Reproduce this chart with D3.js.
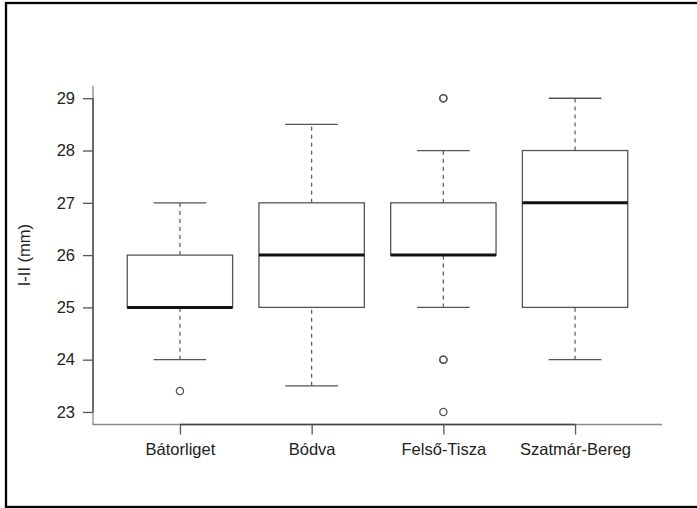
<!DOCTYPE html>
<html>
<head>
<meta charset="utf-8">
<script src="https://cdn.jsdelivr.net/npm/d3@7"></script>
<style>
  body { margin: 0; background: #fff; }
  text { font-family: "Liberation Sans", Arial, sans-serif; fill: #222; }
</style>
</head>
<body>
<div id="chart"></div>
<script>
const width = 697;
const height = 508;

const plot = {left: 93, right: 662, top: 85.7, bottom: 424.5};

const sites = ['Bátorliget', 'Bódva', 'Felső-Tisza', 'Szatmár-Bereg'];
const whiskerLow = [24, 23.5, 25, 24];
const boxLow = [25, 25, 26, 25];
const medians = [25, 26, 26, 27];
const boxHigh = [26, 27, 27, 28];
const whiskerHigh = [27, 28.5, 28, 29];
const outliers = [[23.4], [], [29, 29, 24, 24, 23], []];

const yTicks = [23, 24, 25, 26, 27, 28, 29];

const fontSize = 16.5;

const svg = d3.select("#chart")
  .append("svg")
  .attr("width", width)
  .attr("height", height);

svg.append("rect")
  .attr("x", 6)
  .attr("y", 3)
  .attr("width", 720)
  .attr("height", 504)
  .attr("fill", "none")
  .attr("stroke", "#000")
  .attr("stroke-width", 2.3);

const x = d3.scalePoint()
  .domain(sites)
  .range([plot.left, plot.right])
  .padding(0.66);

const y = d3.scaleLinear()
  .domain([22.76, 29.24])
  .range([plot.bottom, plot.top]);

const boxW = x.step() * 0.8;
const capW = boxW * 0.5;

// L-shaped frame
svg.append("path")
  .attr("d", `M${plot.left},${plot.top}V${plot.bottom}H${plot.right}`)
  .attr("fill", "none")
  .attr("stroke", "#8a8a8a")
  .attr("stroke-width", 1.3);

const boxes = svg.selectAll("g.box")
  .data(sites)
  .enter()
  .append("g")
  .attr("class", "box")
  .attr("transform", (d) => `translate(${x(d)},0)`);

// whiskers
boxes.append("line")
  .attr("y1", (d, i) => y(whiskerLow[i]))
  .attr("y2", (d, i) => y(boxLow[i]))
  .attr("stroke", "#555")
  .attr("stroke-width", 1.2)
  .attr("stroke-dasharray", "4,4");

boxes.append("line")
  .attr("y1", (d, i) => y(boxHigh[i]))
  .attr("y2", (d, i) => y(whiskerHigh[i]))
  .attr("stroke", "#555")
  .attr("stroke-width", 1.2)
  .attr("stroke-dasharray", "4,4");

// staples
boxes.selectAll("line.cap")
  .data((d, i) => [whiskerLow[i], whiskerHigh[i]])
  .enter()
  .append("line")
  .attr("class", "cap")
  .attr("x1", -capW / 2)
  .attr("x2", capW / 2)
  .attr("y1", (v) => y(v))
  .attr("y2", (v) => y(v))
  .attr("stroke", "#555")
  .attr("stroke-width", 1.3);

boxes.append("rect")
  .attr("x", -boxW / 2)
  .attr("width", boxW)
  .attr("y", (d, i) => y(boxHigh[i]))
  .attr("height", (d, i) => y(boxLow[i]) - y(boxHigh[i]))
  .attr("fill", "#fff")
  .attr("stroke", "#555")
  .attr("stroke-width", 1.3);

boxes.append("line")
  .attr("x1", -boxW / 2)
  .attr("x2", boxW / 2)
  .attr("y1", (d, i) => y(medians[i]))
  .attr("y2", (d, i) => y(medians[i]))
  .attr("stroke", "#111")
  .attr("stroke-width", 3);

boxes.selectAll("circle")
  .data((d, i) => outliers[i])
  .enter()
  .append("circle")
  .attr("cy", (v) => y(v))
  .attr("r", 3.6)
  .attr("fill", "none")
  .attr("stroke", "#555")
  .attr("stroke-width", 1.3);

// axes
const yAxis = svg.append("g")
  .attr("transform", `translate(${plot.left},0)`)
  .call(d3.axisLeft(y).tickValues(yTicks).tickFormat(d3.format("d")).tickSize(10).tickPadding(8));

const xAxis = svg.append("g")
  .attr("transform", `translate(0,${plot.bottom})`)
  .call(d3.axisBottom(x).tickSize(10).tickPadding(9));

[yAxis, xAxis].forEach((ax) => {
  ax.select(".domain").attr("stroke", "#444").attr("stroke-width", 1.3);
  ax.selectAll(".tick line").attr("stroke", "#555").attr("stroke-width", 1.3);
  ax.selectAll("text")
    .attr("fill", "#222")
    .style("font-size", `${fontSize}px`)
    .style("font-family", "'Liberation Sans', Arial, sans-serif");
});

// domain only between first and last tick, like R
yAxis.select(".domain").attr("d", `M0,${y(23)}V${y(29)}`);
xAxis.select(".domain").attr("d", `M${x(sites[0])},0H${x(sites[sites.length - 1])}`);

svg.append("text")
  .text("I-II (mm)")
  .attr("transform", `translate(30,${(plot.top + plot.bottom) / 2}) rotate(-90)`)
  .attr("text-anchor", "middle")
  .style("font-size", `${fontSize}px`);
</script>
</body>
</html>
